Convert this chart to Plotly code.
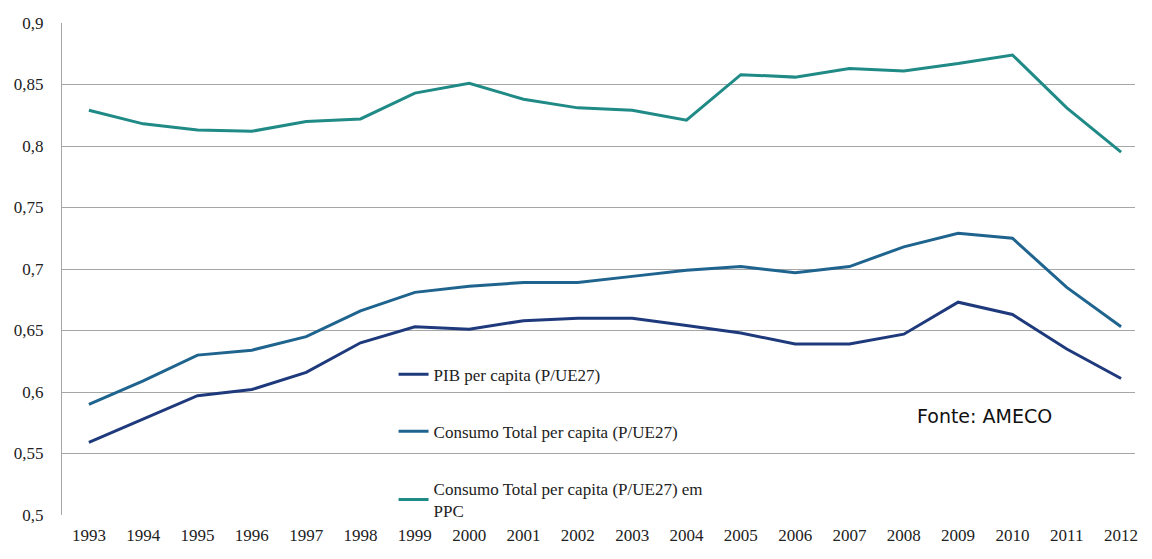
import plotly.graph_objects as go

years = list(range(1993, 2013))
pib = [0.559, 0.578, 0.597, 0.602, 0.616, 0.640, 0.653, 0.651, 0.658, 0.660,
       0.660, 0.654, 0.648, 0.639, 0.639, 0.647, 0.673, 0.663, 0.635, 0.611]
consumo = [0.590, 0.609, 0.630, 0.634, 0.645, 0.666, 0.681, 0.686, 0.689, 0.689,
           0.694, 0.699, 0.702, 0.697, 0.702, 0.718, 0.729, 0.725, 0.685, 0.653]
consumo_ppc = [0.829, 0.818, 0.813, 0.812, 0.820, 0.822, 0.843, 0.851, 0.838, 0.831,
               0.829, 0.821, 0.858, 0.856, 0.863, 0.861, 0.867, 0.874, 0.831, 0.795]

names = ["PIB per capita (P/UE27)",
         "Consumo Total per capita (P/UE27)",
         "Consumo Total per capita (P/UE27) em<br>PPC"]
colors = ["#1f3a7c", "#1f648e", "#1f8a86"]
series = [pib, consumo, consumo_ppc]

fig = go.Figure()
for i, (n, c, s) in enumerate(zip(names, colors, series)):
    fig.add_trace(go.Scatter(x=years, y=s, mode="lines", name=n,
                             line=dict(color=c, width=3), legendgroup=str(i)))

serif = "Liberation Serif"
fig.update_layout(
    width=1136, height=543,
    margin=dict(l=52, r=6, t=10, b=24),
    plot_bgcolor="white", paper_bgcolor="white",
    separators=",.",
    showlegend=True,
    legend=dict(x=0.309, y=0.322, xanchor="left", yanchor="top",
                bgcolor="rgba(0,0,0,0)", font=dict(family=serif, size=17, color="#222"),
                tracegroupgap=32, traceorder="grouped"),
    xaxis=dict(range=[1992.505, 2012.256], tickmode="array", tickvals=years,
               ticktext=[str(y) for y in years], showgrid=False, zeroline=False,
               showline=False, ticks="", ticklabelstandoff=8,
               tickfont=dict(family=serif, size=17, color="#222")),
    yaxis=dict(range=[0.5, 0.9], tickvals=[0.5, 0.55, 0.6, 0.65, 0.7, 0.75, 0.8, 0.85, 0.9],
               showgrid=True, gridcolor="#a6a6a6", gridwidth=1, zeroline=False,
               showline=True, linecolor="#a6a6a6", linewidth=1, ticks="",
               ticklabelstandoff=14,
               tickfont=dict(family=serif, size=17, color="#222")),
    annotations=[dict(text="Fonte: AMECO", x=0.795, y=0.202, xref="paper", yref="paper",
                      xanchor="left", yanchor="middle", showarrow=False,
                      font=dict(family="DejaVu Sans", size=19, color="#111"))],
)
fig.write_html("out.html")
